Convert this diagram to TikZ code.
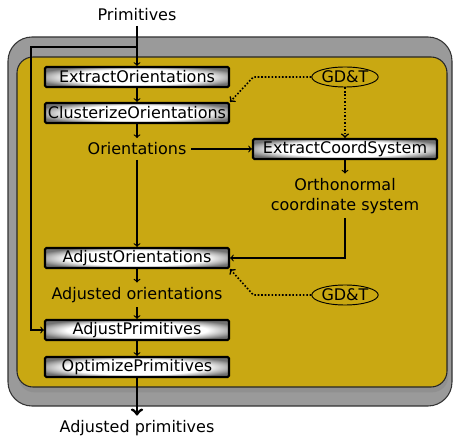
\documentclass[tikz,border=0pt]{standalone}
\usepackage{fontspec}
\setmainfont{DejaVu Sans}
\usepackage{tikz}
\usetikzlibrary{shapes.geometric,shadows}
\definecolor{panel}{RGB}{201,168,18}
\definecolor{frame}{RGB}{154,154,154}
\pgfdeclarelayer{bg}
\pgfsetlayers{bg,main}
% white in the middle, grey towards the border
\pgfdeclareradialshading{boxglow}{\pgfpoint{0bp}{0bp}}{%
  color(0bp)=(white); color(19bp)=(white); color(29bp)=(black!55); color(50bp)=(black!60)}

\tikzset{
  procbox/.style={draw=black, line width=1.6pt, rounded corners=1pt,
    shading=boxglow, minimum width=138pt, minimum height=15pt, inner sep=0pt},
  spec/.style={ellipse, draw=black, line width=0.7pt, fill=panel,
    minimum width=48pt, minimum height=15pt, inner sep=0pt},
  flow/.style={->, line width=0.9pt},
  hint/.style={->, line width=1.2pt, dash pattern=on 1.2pt off 1.4pt},
}

\begin{document}
\begin{tikzpicture}[x=0.75pt, y=-0.75pt, font=\fontsize{12}{15}\selectfont]
		\useasboundingbox (0,0) rectangle (453,438);

		%% Frames
		\begin{pgfonlayer}{bg}
		\draw[fill=frame, draw=black!80, line width=0.8pt, rounded corners=18pt]
			(8,37) rectangle (452,406);
		\draw[fill=panel, draw=black!85, line width=0.8pt, rounded corners=12pt,
			drop shadow={shadow xshift=1pt, shadow yshift=-4pt, opacity=0.35}]
			(17,57) rectangle (447,387);
		\end{pgfonlayer}

		%% Processing steps
		\node[procbox] (extract) at (137,77) {ExtractOrientations};
		\node[procbox] (cluster) at (137,113) {ClusterizeOrientations};
		\node[procbox] (ecs) at (345,149) {ExtractCoordSystem};
		\node[procbox] (adjori) at (137,258) {AdjustOrientations};
		\node[procbox] (adjprim) at (137,330) {AdjustPrimitives};
		\node[procbox] (optim) at (137,367) {OptimizePrimitives};

		%% Data
		\node (prim) at (137,15) {Primitives};
		\node (orient) at (137,149) {Orientations};
		\node[align=center] (ortho) at (345,196) {Orthonormal\\coordinate system};
		\node (adjorient) at (137,295) {Adjusted orientations};
		\node (out) at (137,428) {Adjusted primitives};

		%% Tolerancing specs
		\node[spec] (gdtA) at (345,77) {GD\&T};
		\node[spec] (gdtB) at (345,295) {GD\&T};

		%% Input and output
		\coordinate (split) at (137,47);
		\coordinate (entry) at (137,57);
		\coordinate (bend) at (31,47);
		\coordinate (lentry) at (31,57);
		\draw[line width=2.2pt] (prim) -- (entry);
		\draw[line width=2.2pt] (split) -- (bend) -- (lentry);
		\draw[flow] (entry) -- (extract);
		\draw[flow] (lentry) |- (adjprim);
		\draw[->, line width=2.2pt] (optim) -- (out);

		%% Main chain
		\draw[flow] (extract) -- (cluster);
		\draw[flow] (cluster) -- (orient);
		\draw[flow] (orient) -- (adjori);
		\draw[flow] (orient) -- (ecs);
		\draw[flow] (ecs) -- (ortho);
		\draw[flow] (ortho.south) |- (adjori.east);
		\draw[flow] (adjori) -- (adjorient);
		\draw[flow] (adjorient) -- (adjprim);
		\draw[flow] (adjprim) -- (optim);

		%% Constraints
		\draw[hint] (gdtA.west) -- ++(-58,0) -- (cluster.north east);
		\draw[hint] (gdtA) -- (ecs);
		\draw[hint] (gdtB.west) -- ++(-58,0) -- (adjori.south east);
	\end{tikzpicture}
\end{document}
